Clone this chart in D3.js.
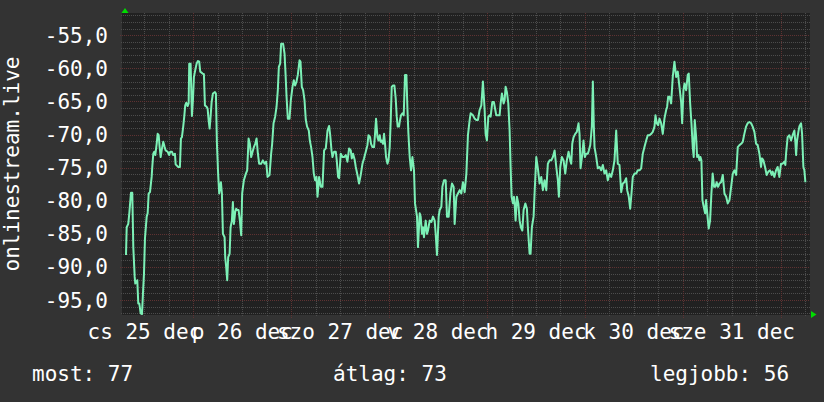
<!DOCTYPE html>
<meta charset="utf-8">
<title>onlinestream.live</title>
<script src="https://d3js.org/d3.v7.min.js"></script>
<style>
body { margin: 0; background: #333333; }
text { font-family: "DejaVu Sans Mono", monospace; font-size: 21px; fill: #ffffff; }
</style>
<body>
<div id="chart"></div>
<script>
// hours since dec 25 07:00 (one week shown)
var hours = [
  0.49,0.66,1.05,1.30,1.71,2.03,2.28,2.62,2.77,3.26,
  3.50,3.75,4.09,4.41,4.65,4.90,5.14,5.56,5.80,6.05,
  6.37,6.78,6.93,7.18,7.42,7.67,8.01,8.25,8.50,8.74,
  8.99,9.31,9.62,9.97,10.21,10.70,11.09,11.34,11.76,12.07,
  12.49,12.66,13.30,13.71,13.96,14.20,14.52,14.77,15.01,15.26,
  15.60,15.85,15.99,16.33,16.65,16.90,17.14,17.46,17.80,18.12,
  18.44,18.69,19.27,19.59,19.84,20.25,20.50,20.74,20.99,21.23,
  21.48,21.80,22.29,22.53,22.78,23.09,23.34,23.76,24.00,24.25,
  24.66,24.81,25.05,25.30,25.54,25.89,26.13,26.45,26.69,26.94,
  27.26,27.50,27.75,28.09,28.41,28.73,28.97,29.39,29.88,30.20,
  30.54,30.86,31.18,31.52,31.84,32.16,32.50,32.82,33.13,33.62,
  34.04,34.46,34.85,35.19,35.68,36.07,36.32,36.66,37.05,37.40,
  37.71,37.96,38.28,38.52,39.01,39.36,39.60,39.85,40.16,40.58,
  40.90,41.31,41.63,41.95,42.29,42.61,43.03,43.27,43.59,43.91,
  44.25,44.57,44.89,45.31,45.55,45.87,46.21,46.53,46.85,47.19,
  47.44,47.83,48.25,48.66,49.05,49.47,49.89,50.28,50.52,50.87,
  51.11,51.50,51.92,52.16,52.48,52.73,53.14,53.56,53.95,54.37,
  54.78,55.18,55.59,55.84,56.16,56.57,56.82,57.23,57.62,58.04,
  58.46,58.85,59.27,59.68,59.93,60.32,60.56,60.91,61.30,61.54,
  61.79,62.13,62.38,62.69,62.94,63.18,63.50,63.75,63.99,64.24,
  64.58,64.83,65.14,65.39,65.63,65.95,66.29,66.61,66.86,67.10,
  67.42,67.67,67.91,68.25,68.57,68.89,69.23,69.48,69.72,70.04,
  70.36,70.70,71.09,71.34,71.83,72.07,72.49,72.73,73.05,73.30,
  73.54,73.96,74.28,74.52,74.94,75.36,75.75,76.16,76.41,76.73,
  77.14,77.39,77.80,78.05,78.44,78.86,79.18,79.59,80.01,80.40,
  80.82,81.06,81.48,81.87,82.29,82.70,83.09,83.51,83.93,84.32,
  84.74,84.98,85.55,85.96,86.38,86.77,87.18,87.60,87.99,88.41,
  88.65,88.97,89.31,89.63,89.88,90.29,90.68,91.03,91.27,91.67,
  92.08,92.33,92.65,93.06,93.31,93.55,93.87,94.21,94.53,94.78,
  95.02,95.34,95.59,95.76,96.00,96.32,96.67,96.98,97.30,97.65,
  97.96,98.38,98.77,99.01,99.43,99.67,99.99,100.41,100.65,101.07,
  101.46,101.88,102.29,102.69,103.10,103.52,103.91,104.33,104.75,105.14,
  105.56,105.97,106.36,106.61,106.95,107.34,107.76,108.17,108.56,108.98,
  109.40,109.64,109.89,110.21,110.62,111.01,111.43,111.67,111.92,112.33,
  112.65,112.97,113.31,113.71,113.95,114.30,114.69,114.94,115.18,115.35,
  115.77,116.16,116.57,116.99,117.38,117.80,118.21,118.60,119.02,119.43,
  119.83,120.24,120.66,121.05,121.47,121.89,122.28,122.69,123.11,123.36,
  123.75,124.09,124.41,124.73,125.14,125.56,125.95,126.37,126.78,127.18,
  127.59,128.01,128.40,128.82,129.24,129.63,130.05,130.29,130.61,130.95,
  131.27,131.68,132.08,132.49,132.91,133.15,133.40,133.72,134.13,134.53,
  134.94,135.36,135.75,136.17,136.58,136.83,137.15,137.40,137.81,138.20,
  138.45,138.79,139.11,139.43,139.67,139.92,140.26,140.50,140.82,141.06,
  141.31,141.55,141.80,142.12,142.46,142.70,143.10,143.34,143.68,144.00,
  144.31,144.66,144.98,145.29,145.64,145.96,146.37,146.79,147.20,147.62,
  148.01,148.43,148.84,149.24,149.65,150.07,150.46,150.88,151.30,151.69,
  152.08,152.50,152.89,153.31,153.73,154.12,154.54,154.96,155.35,155.77,
  156.17,156.42,156.74,157.15,157.55,157.96,158.37,158.77,159.01,159.43,
  159.85,160.24,160.66,161.07,161.47,161.88,162.13,162.30,162.69,163.11,
  163.53,163.92,164.34,164.58,164.76,165.00,165.32,165.56,165.98,166.23,
  166.55,166.79,167.04
];

var signal = [
  -88.2,-84.0,-83.5,-81.9,-78.8,-78.8,-87.0,-91.5,-92.5,-92.0,
  -95.5,-95.5,-97.0,-97.1,-94.0,-91.0,-85.7,-82.4,-81.9,-78.9,
  -78.7,-76.4,-74.9,-72.9,-72.6,-73.1,-71.4,-69.9,-70.1,-71.9,
  -73.4,-72.1,-71.1,-71.9,-72.4,-72.6,-73.1,-72.6,-72.6,-73.1,
  -72.9,-74.5,-74.9,-74.9,-70.6,-70.4,-68.8,-67.3,-65.6,-65.2,
  -65.7,-65.3,-59.3,-59.3,-67.2,-64.8,-61.3,-60.3,-59.3,-58.9,
  -59.0,-60.5,-60.8,-60.9,-65.6,-65.8,-66.1,-67.8,-69.1,-67.3,
  -65.1,-63.8,-63.6,-63.8,-71.4,-76.1,-78.9,-77.2,-78.9,-85.0,
  -85.5,-88.5,-90.0,-92.0,-88.5,-88.0,-84.0,-83.0,-80.2,-83.5,
  -81.7,-81.2,-81.4,-81.4,-83.0,-85.2,-78.9,-76.9,-75.9,-75.4,
  -70.6,-71.4,-73.4,-72.6,-71.9,-71.4,-70.6,-72.9,-74.4,-74.4,
  -73.9,-74.4,-74.1,-76.4,-76.1,-72.9,-71.4,-68.3,-67.3,-65.8,
  -63.3,-59.8,-59.3,-56.3,-56.3,-57.8,-60.8,-64.3,-67.6,-67.6,
  -64.8,-62.8,-61.8,-62.6,-62.0,-61.0,-58.8,-59.0,-62.8,-63.3,
  -64.8,-67.8,-68.8,-69.4,-70.9,-71.9,-73.4,-75.9,-76.9,-76.4,
  -79.4,-76.4,-77.9,-77.9,-72.4,-72.1,-69.4,-68.7,-69.9,-72.4,
  -73.4,-72.6,-72.6,-73.9,-76.4,-76.6,-72.9,-73.4,-73.4,-73.1,
  -74.1,-72.1,-72.4,-73.6,-72.9,-73.9,-74.9,-76.1,-77.4,-76.1,
  -74.4,-73.6,-72.6,-71.6,-70.1,-70.4,-71.4,-71.9,-71.9,-69.9,
  -67.6,-70.4,-70.9,-70.1,-71.1,-70.9,-71.4,-69.9,-71.4,-73.4,
  -74.4,-73.9,-71.9,-67.8,-62.8,-62.6,-62.6,-64.6,-67.3,-68.8,
  -68.8,-67.8,-67.1,-66.8,-67.1,-61.0,-61.0,-66.1,-69.8,-73.4,
  -75.4,-73.4,-75.4,-80.4,-82.4,-87.0,-81.9,-82.4,-85.0,-84.0,
  -85.5,-83.0,-85.0,-84.5,-83.0,-83.2,-82.4,-83.0,-85.0,-88.2,
  -82.4,-81.4,-80.9,-77.9,-76.9,-76.9,-82.4,-82.4,-78.9,-77.4,
  -77.9,-83.5,-79.4,-78.9,-78.4,-78.9,-77.2,-78.7,-75.9,-70.1,
  -67.8,-66.8,-67.1,-67.6,-67.8,-67.8,-66.3,-65.6,-62.0,-66.3,
  -69.9,-70.9,-67.3,-67.1,-67.3,-65.1,-65.1,-66.3,-67.1,-67.1,
  -67.1,-65.3,-63.8,-65.3,-64.8,-62.8,-63.6,-65.3,-69.4,-74.9,
  -79.4,-80.4,-79.4,-80.4,-83.0,-79.4,-80.4,-83.0,-84.0,-84.5,
  -81.4,-80.4,-81.2,-84.0,-88.0,-88.0,-84.0,-82.4,-78.9,-73.4,
  -75.1,-77.4,-76.4,-78.4,-76.9,-78.4,-74.4,-73.9,-73.9,-73.4,
  -72.4,-74.9,-76.9,-79.4,-74.9,-73.4,-73.9,-75.9,-73.9,-72.6,
  -73.9,-74.4,-71.4,-70.4,-69.9,-69.6,-68.3,-69.9,-75.1,-73.1,
  -70.9,-73.4,-72.9,-72.9,-72.4,-71.6,-68.8,-62.0,-68.8,-71.9,
  -73.4,-75.1,-74.9,-75.4,-74.6,-75.9,-75.4,-76.9,-75.9,-76.4,
  -75.4,-73.9,-69.4,-74.4,-74.6,-78.7,-77.4,-77.2,-76.6,-78.4,
  -79.4,-81.2,-78.9,-76.4,-75.9,-75.9,-75.4,-75.4,-75.1,-72.9,
  -71.9,-70.9,-70.1,-70.1,-69.9,-69.6,-68.8,-67.1,-68.3,-68.6,
  -67.6,-68.3,-69.9,-67.6,-66.3,-65.8,-64.3,-64.3,-65.3,-61.3,
  -59.0,-61.3,-60.5,-62.8,-65.1,-68.3,-63.3,-62.3,-63.3,-61.0,
  -60.8,-65.3,-68.3,-71.9,-73.4,-67.8,-70.4,-73.4,-73.1,-73.9,
  -73.4,-73.9,-79.9,-80.9,-81.9,-79.9,-82.7,-84.2,-83.0,-78.9,
  -75.9,-77.9,-77.9,-77.2,-77.9,-77.4,-77.2,-76.1,-78.9,-79.4,
  -80.4,-79.9,-77.9,-75.9,-75.4,-76.1,-71.9,-71.6,-71.4,-71.1,
  -69.9,-68.8,-68.3,-68.1,-68.3,-68.8,-69.6,-71.4,-71.6,-72.9,
  -74.9,-73.6,-73.9,-74.9,-76.1,-75.6,-75.4,-76.1,-75.6,-76.4,
  -75.4,-74.9,-76.4,-74.4,-74.4,-74.1,-74.6,-72.9,-70.4,-70.1,
  -70.9,-70.1,-69.4,-71.1,-73.1,-70.9,-69.6,-68.8,-68.3,-69.9,
  -74.9,-75.4,-77.2
];

// day labels sit at noon, midnights get the red grid
var dayLabels = ["cs 25 dec", "p 26 dec", "szo 27 dec", "v 28 dec", "h 29 dec", "k 30 dec", "sze 31 dec"];
var labelHours = [5, 29, 53, 77, 101, 125, 149];
var midnightHours = [17, 41, 65, 89, 113, 137, 161];
var yMajor = [-95, -90, -85, -80, -75, -70, -65, -60, -55];
var legendItems = ["most: 77", "átlag: 73", "legjobb: 56"];
var legendX = [32, 333, 650];
var yTitle = "onlinestream.live";

var width = 824, height = 402;

var svg = d3.select("#chart")
  .append("svg")
    .attr("width", width)
    .attr("height", height);

svg.append("rect")
  .attr("width", width)
  .attr("height", height)
  .attr("fill", "#333333");

var x = d3.scaleLinear().domain([0, 168]).range([124, 809.3]);
var y = d3.scaleLinear().domain([-97.1, -51.8]).range([314, 14]);

// canvas
svg.append("rect")
  .attr("x", 122).attr("y", 13)
  .attr("width", 688).attr("height", 302)
  .attr("fill", "#212121");

var px = function(v) { return Math.round(v) + 0.5; };
var grid = svg.append("g").attr("shape-rendering", "crispEdges");

// minor horizontal grid (every 1)
grid.selectAll(".hmin")
  .data(d3.range(-97, -51).filter(function(v) { return v % 5 != 0; }))
  .enter().append("line")
    .attr("x1", 121).attr("x2", 810)
    .attr("y1", function(d) { return px(y(d)); })
    .attr("y2", function(d) { return px(y(d)); })
    .attr("stroke", "#4c4c4c")
    .attr("stroke-dasharray", "1,1");

// minor vertical grid (every 6 hours)
grid.selectAll(".vmin")
  .data(d3.range(5, 168, 6).filter(function(h) { return midnightHours.indexOf(h) < 0; }))
  .enter().append("line")
    .attr("x1", function(d) { return px(x(d)); })
    .attr("x2", function(d) { return px(x(d)); })
    .attr("y1", 13).attr("y2", 317)
    .attr("stroke", "#4c4c4c")
    .attr("stroke-dasharray", "1,1");

// major grid
grid.selectAll(".hmaj")
  .data(yMajor)
  .enter().append("line")
    .attr("x1", 120).attr("x2", 810)
    .attr("y1", function(d) { return px(y(d)); })
    .attr("y2", function(d) { return px(y(d)); })
    .attr("stroke", "#5f3232")
    .attr("stroke-dasharray", "1,1");

grid.selectAll(".vmaj")
  .data(midnightHours)
  .enter().append("line")
    .attr("x1", function(d) { return px(x(d)); })
    .attr("x2", function(d) { return px(x(d)); })
    .attr("y1", 13).attr("y2", 318)
    .attr("stroke", "#5f3232")
    .attr("stroke-dasharray", "1,1");

// y labels
var fmt = d3.formatLocale({decimal: ",", thousands: " ", grouping: [3], currency: ["", ""], minus: "-"}).format(".1f");
svg.selectAll(".ylab")
  .data(yMajor)
  .enter().append("text")
    .attr("x", 108)
    .attr("y", function(d) { return y(d) + 7.5; })
    .attr("text-anchor", "end")
    .text(function(d) { return fmt(d); });

// x labels (they overlap in the original too)
svg.selectAll(".xlab")
  .data(dayLabels)
  .enter().append("text")
    .attr("x", function(d, i) { return x(labelHours[i]); })
    .attr("y", 339)
    .attr("text-anchor", "middle")
    .text(function(d) { return d; });

// axis title
svg.append("text")
  .attr("transform", "translate(18.5,164) rotate(-90)")
  .attr("text-anchor", "middle")
  .text(yTitle);

// arrows
svg.append("path")
  .attr("d", "M121.5,13 L128.5,13 L125,8 Z")
  .attr("fill", "#00dd00");
svg.append("path")
  .attr("d", "M811,311 L811,318 L816.5,314.5 Z")
  .attr("fill", "#00dd00");

// the line
var line = d3.line()
  .x(function(d, i) { return x(hours[i]); })
  .y(function(d) { return y(d); });

svg.append("path")
  .datum(signal)
  .attr("fill", "none")
  .attr("stroke", "#7cf0b6")
  .attr("stroke-width", 2)
  .attr("stroke-linejoin", "round")
  .attr("d", line);

// legend
svg.selectAll(".leg")
  .data(legendItems)
  .enter().append("text")
    .attr("x", function(d, i) { return legendX[i]; })
    .attr("y", 381)
    .text(function(d) { return d; });
</script>
